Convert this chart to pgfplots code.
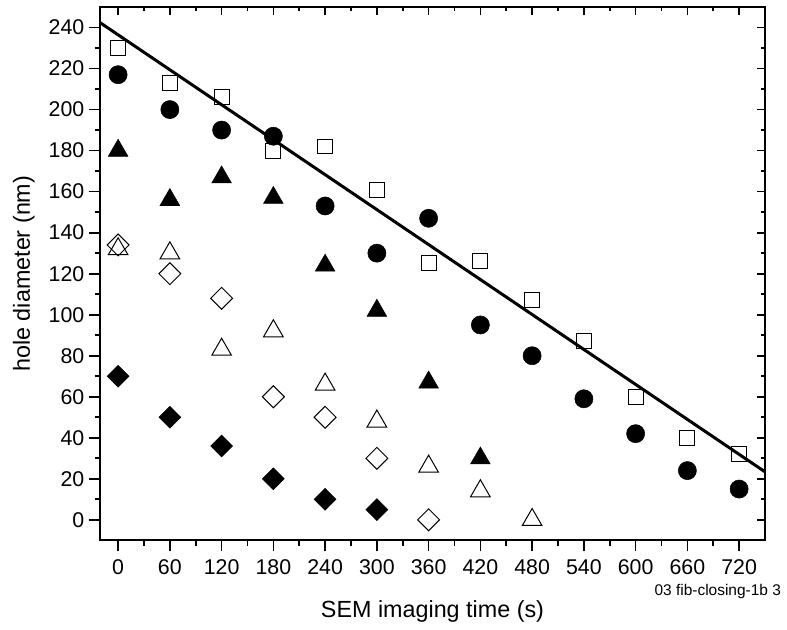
\documentclass[border=0pt]{standalone}
\usepackage{fontspec}
\setmainfont{Liberation Sans}
\usepackage{pgfplots}
\pgfplotsset{compat=1.18}

\pgfplotsset{
  frame/.style={
    scale only axis,
    width=498.75pt, height=400pt,
    xmin=-21, xmax=750, ymin=-10, ymax=250,
    xtick={0,60,...,720}, ytick={0,20,...,240},
    minor x tick num=1, minor y tick num=1,
    axis line style={line width=1.5pt},
    tick style={line width=1.3pt, black},
  },
}

\begin{document}
\begin{tikzpicture}
% top and right: ticks pointing in, no labels
\begin{axis}[frame,
  xtick pos=right, ytick pos=right, tick align=inside,
  major tick length=6pt, minor tick length=3pt,
  xticklabels={}, yticklabels={},
]
\end{axis}

\begin{axis}[frame,
  xtick pos=left, ytick pos=left, tick align=outside,
  major tick length=8.25pt, minor tick length=4pt,
  /pgf/number format/assume math mode=true,
  ticklabel style={font=\fontsize{16}{19}\selectfont},
  xticklabel style={yshift=-2.5pt},
  xlabel={SEM imaging time (s)},
  ylabel={hole diameter (nm)},
  label style={font=\fontsize{17.5}{21}\selectfont},
  xlabel style={at={(axis description cs:0.5,-0.1444)}, anchor=base},
  ylabel style={at={(axis description cs:-0.1053,0.5)}, anchor=base},
  clip=false,
]
% open squares
\addplot[only marks, mark=square, mark size=5.6pt, mark options={line width=0.75pt, fill=white}]
  coordinates {(0,230) (60,213) (120,206) (180,180) (240,182) (300,161) (360,125)
               (420,126) (480,107) (540,87) (600,60) (660,40) (720,32)};
% filled circles
\addplot[only marks, mark=*, mark size=6.8pt, mark options={fill=black}]
  coordinates {(0,217) (60,200) (120,190) (180,187) (240,153) (300,130) (360,147)
               (420,95) (480,80) (540,59) (600,42) (660,24) (720,15)};
% filled triangles
\addplot[only marks, mark=triangle*, mark size=8.5pt, mark options={fill=black}]
  coordinates {(0,180) (60,156) (120,167) (180,157) (240,124) (300,102) (360,67) (420,30)};
% open triangles
\addplot[only marks, mark=triangle, mark size=8.5pt, mark options={line width=0.75pt, fill=white}]
  coordinates {(0,132) (60,130) (120,83) (180,92) (240,66) (300,48) (360,26) (420,14) (480,0)};
% open diamonds
\addplot[only marks, mark=square, mark size=5.8pt, mark options={rotate=45, line width=0.75pt, fill=white}]
  coordinates {(0,134) (60,120) (120,108) (180,60) (240,50) (300,30) (360,0)};
% filled diamonds
\addplot[only marks, mark=square*, mark size=5.8pt, mark options={rotate=45, fill=black}]
  coordinates {(0,70) (60,50) (120,36) (180,20) (240,10) (300,5)};
% linear fit
\addplot[line width=2.25pt, no marks] coordinates {(-21,242.4) (750,23.4)};

\node[anchor=base east, xshift=15.5pt, yshift=-41pt, font=\fontsize{11.6}{14}\selectfont]
  at (rel axis cs:1,0) {03 fib-closing-1b 3};
\coordinate (sw) at (rel axis cs:0,0);
\end{axis}
\pgfresetboundingbox
\path (sw) ++(-75pt,-66.75pt) rectangle ++(590.25pt,472pt);
\end{tikzpicture}
\end{document}
